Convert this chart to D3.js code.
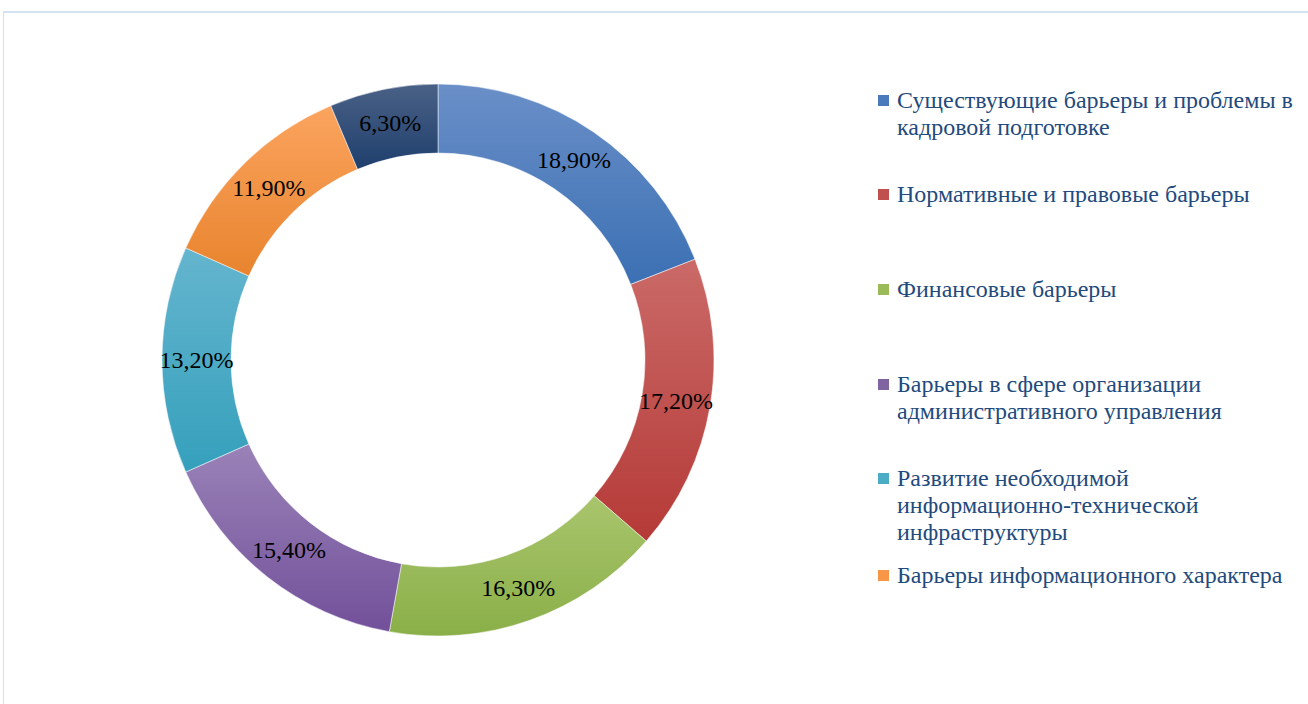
<!DOCTYPE html>
<html>
<head>
<meta charset="utf-8">
<script src="https://cdn.jsdelivr.net/npm/d3@7"></script>
<style>
  body { margin: 0; background: #fff; }
  svg { display: block; }
</style>
</head>
<body>
<div id="chart"></div>
<script>
// data
var categories = [
  'Существующие барьеры и проблемы в кадровой подготовке',
  'Нормативные и правовые барьеры',
  'Финансовые барьеры',
  'Барьеры в сфере организации административного управления',
  'Развитие необходимой информационно-технической инфраструктуры',
  'Барьеры информационного характера',
  'Прочие барьеры'
];
var values = [18.9, 17.2, 16.3, 15.4, 13.2, 11.9, 6.3];
var valueLabels = ['18,90%', '17,20%', '16,30%', '15,40%', '13,20%', '11,90%', '6,30%'];

// legend lines as they wrap in the picture (last entry is cut off)
var legendLines = [
  ['Существующие барьеры и проблемы в', 'кадровой подготовке'],
  ['Нормативные и правовые барьеры'],
  ['Финансовые барьеры'],
  ['Барьеры в сфере организации', 'административного управления'],
  ['Развитие необходимой', 'информационно-технической', 'инфраструктуры'],
  ['Барьеры информационного характера']
];
var legendY = [100, 194, 289, 384, 478, 575];

// slice colours: top of gradient / bottom of gradient / legend swatch
var topColors = ['#6a8fc8', '#ca6a68', '#a9c56d', '#9a83b8', '#65b5ce', '#fba45f', '#4a6186'];
var bottomColors = ['#3b70b3', '#b53a37', '#8aaf48', '#72509a', '#35a0bc', '#e8842e', '#1f3f6d'];
var swatchColors = ['#4a7abc', '#c0504d', '#9bbb59', '#8064a2', '#4bacc6', '#f79646', '#1f497d'];

var width = 1308, height = 704;
var cx = 438, cy = 360, outerR = 276, innerR = 207;

var svg = d3.select('#chart').append('svg')
  .attr('width', width)
  .attr('height', height);

// chart area frame
svg.append('line')
  .attr('x1', 3).attr('x2', width).attr('y1', 12).attr('y2', 12)
  .attr('stroke', '#d3e1f0').attr('stroke-width', 2);
svg.append('line')
  .attr('x1', 3.5).attr('x2', 3.5).attr('y1', 11).attr('y2', height)
  .attr('stroke', '#d3e1f0').attr('stroke-width', 1);

// vertical gradients, lighter on top
var defs = svg.append('defs');
topColors.forEach(function(c, i) {
  var g = defs.append('linearGradient')
    .attr('id', 'grad' + i)
    .attr('x1', 0).attr('y1', 0).attr('x2', 0).attr('y2', 1);
  g.append('stop').attr('offset', '0%').attr('stop-color', c);
  g.append('stop').attr('offset', '100%').attr('stop-color', bottomColors[i]);
});

var pie = d3.pie().sort(null).value(function(d) { return d; });
var arc = d3.arc().innerRadius(innerR).outerRadius(outerR);
var arcs = pie(values);

var g = svg.append('g').attr('transform', 'translate(' + cx + ',' + cy + ')');

g.selectAll('path.slice')
  .data(arcs)
  .enter()
  .append('path')
  .classed('slice', true)
  .attr('d', arc)
  .attr('fill', function(d, i) { return 'url(#grad' + i + ')'; })
  .attr('stroke', '#fff')
  .attr('stroke-width', 0.5);

g.selectAll('text.label')
  .data(arcs)
  .enter()
  .append('text')
  .classed('label', true)
  .attr('transform', function(d) { return 'translate(' + arc.centroid(d) + ')'; })
  .attr('text-anchor', 'middle')
  .attr('dy', '0.33em')
  .style('font-family', '"Liberation Serif", "Times New Roman", serif')
  .style('font-size', '24px')
  .style('fill', '#000')
  .text(function(d, i) { return valueLabels[i]; });

// legend
var legend = svg.append('g');
var item = legend.selectAll('g.item')
  .data(legendLines)
  .enter()
  .append('g')
  .classed('item', true)
  .attr('transform', function(d, i) { return 'translate(878,' + legendY[i] + ')'; });

item.append('rect')
  .attr('x', 0).attr('y', -5)
  .attr('width', 11).attr('height', 11)
  .attr('fill', function(d, i) { return swatchColors[i]; });

item.append('text')
  .attr('x', 19)
  .attr('y', 0)
  .style('font-family', '"Liberation Serif", "Times New Roman", serif')
  .style('font-size', '24px')
  .style('fill', '#234a7c')
  .selectAll('tspan')
  .data(function(d) { return d; })
  .enter()
  .append('tspan')
  .attr('x', 19)
  .attr('dy', function(d, i) { return i === 0 ? '0.33em' : '27px'; })
  .text(function(d) { return d; });
</script>
</body>
</html>
